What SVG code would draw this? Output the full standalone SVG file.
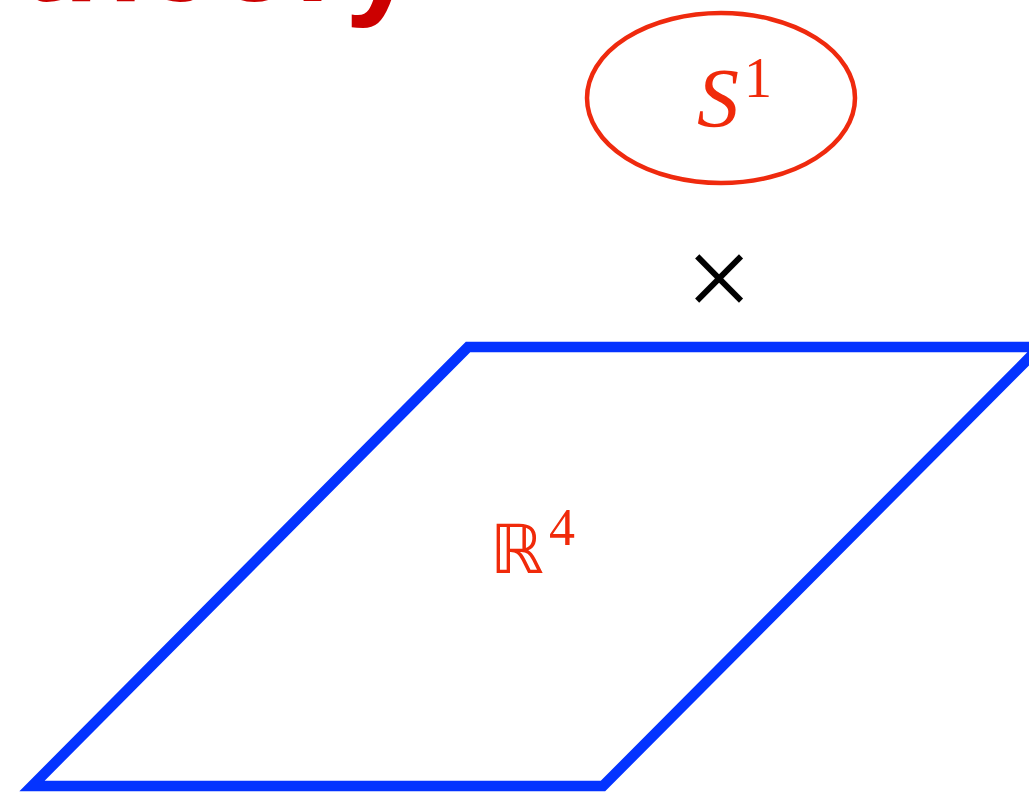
<svg xmlns="http://www.w3.org/2000/svg" width="1029" height="798" viewBox="0 0 1029 798">
<style>
.title{font-family:"Liberation Sans",Arial,sans-serif;font-weight:bold;fill:#cc0000}
.math{font-family:"Liberation Serif","Times New Roman",serif;fill:#f02a0a}
.bb{font-family:"DejaVu Sans","Noto Sans",sans-serif;fill:#f02a0a}
</style>
<rect width="1029" height="798" fill="#ffffff"/>
<text class="title" x="20" y="0.5" font-size="130">theory</text>
<g id="circle-S1">
<ellipse cx="721" cy="98" rx="134" ry="85" fill="none" stroke="#ef2a0e" stroke-width="4.5"/>
<text class="math" x="697" y="127" font-size="84" font-style="italic">S</text>
<text class="math" x="744" y="97" font-size="56">1</text>
</g>
<g id="times">
<text x="719" y="318" font-size="118" text-anchor="middle" font-family="Liberation Serif,serif" fill="#000">×</text>
</g>
<g id="plane-R4">
<polygon points="468,347 1040,347 603,786 32,786" fill="none" stroke="#0433ff" stroke-width="10.5" stroke-linejoin="miter"/>
<text class="bb" x="490" y="573" font-size="68">ℝ</text>
<text class="math" x="549" y="545" font-size="52">4</text>
</g>
<g id="connectors"></g>
</svg>
